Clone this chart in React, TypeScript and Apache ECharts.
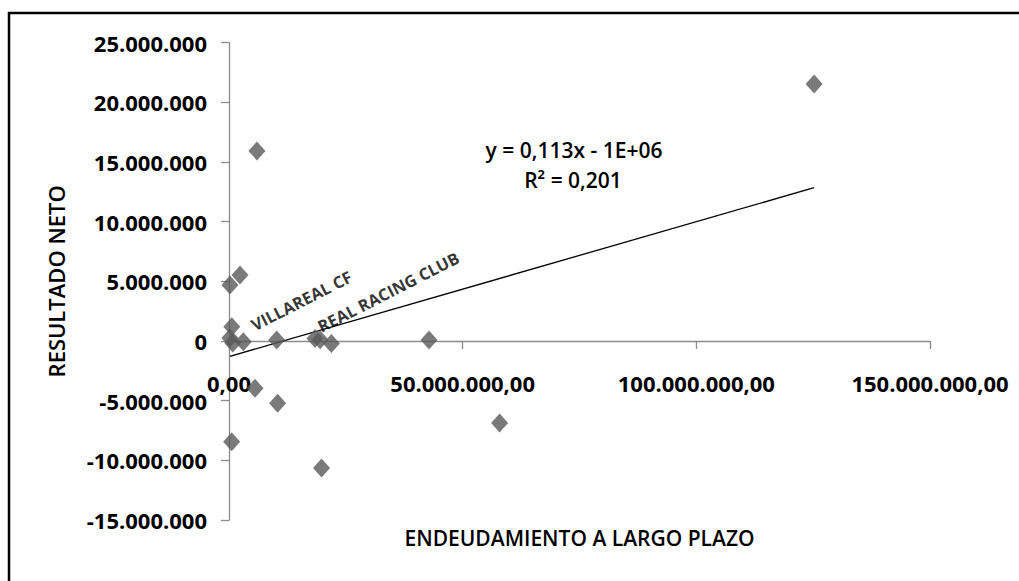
import React, { useEffect, useRef } from "react";
import * as echarts from "echarts";

// Long-term debt (x) and net result (y) per club, in euros
const DEBT = [
  200000, 2350000, 600000, 200000, 800000, 3060000, 10200000, 18400000,
  19500000, 21900000, 42800000, 5560000, 10400000, 570000, 19800000,
  57900000, 125200000, 5980000,
];
const NET_RESULT = [
  4690000, 5530000, 1200000, 250000, -170000, -60000, 80000, 220000,
  100000, -200000, 80000, -3960000, -5220000, -8440000, -10650000,
  -6870000, 21540000, 15930000,
];
const CLUB_LABELS = [
  "", "", "", "", "", "VILLAREAL CF", "", "REAL RACING CLUB",
  "", "", "", "", "", "", "", "", "", "",
];

// Linear trendline parameters
const TREND_SLOPE = 0.113;
const TREND_INTERCEPT = -1300000;
const TREND_R2 = 0.201;

const X_TICKS = { min: 0, max: 150000000, interval: 50000000 };
const Y_TICKS = { min: -15000000, max: 25000000, interval: 5000000 };

const X_TITLE = "ENDEUDAMIENTO A LARGO PLAZO";
const Y_TITLE = "RESULTADO NETO";

const FONT = "'Open Sans', 'DejaVu Sans', sans-serif";

function thousands(v: number): string {
  const neg = v < 0;
  const s = Math.round(Math.abs(v)).toString().replace(/\B(?=(\d{3})+(?!\d))/g, ".");
  return (neg ? "-" : "") + s;
}

function excelNumber(v: number, digits: number): string {
  return v.toFixed(digits).replace(".", ",");
}

function excelExp(v: number): string {
  const [m, e] = Math.abs(v).toExponential(0).split("e");
  const n = parseInt(e, 10);
  return m + "E" + (n < 0 ? "-" : "+") + String(Math.abs(n)).padStart(2, "0");
}

export default function App() {
  const ref = useRef<HTMLDivElement>(null);

  useEffect(() => {
    if (!ref.current) return;
    const chart = echarts.init(ref.current, undefined, { renderer: "svg" });

    const points = DEBT.map((x, i) => ({
      value: [x, NET_RESULT[i]],
      name: CLUB_LABELS[i],
      label: CLUB_LABELS[i]
        ? {
            show: true,
            formatter: "{b}",
            rotate: 27,
            align: "left",
            verticalAlign: "bottom",
            position: i === 5 ? [21, 1] : [16, 6],
            fontFamily: FONT,
            fontSize: 16.5,
            fontWeight: "bold",
            color: "#000",
          }
        : { show: false },
    }));

    const xMin = Math.min(...DEBT);
    const xMax = Math.max(...DEBT);
    const trend = [
      [xMin, TREND_SLOPE * xMin + TREND_INTERCEPT],
      [xMax, TREND_SLOPE * xMax + TREND_INTERCEPT],
    ];

    const equation =
      "y = " + excelNumber(TREND_SLOPE, 3) + "x " + (TREND_INTERCEPT < 0 ? "- " : "+ ") + excelExp(TREND_INTERCEPT);
    const r2 = "R² = " + excelNumber(TREND_R2, 3);

    const axisColor = "#8c8c8c";

    chart.setOption({
      animation: false,
      backgroundColor: "#ffffff",
      grid: { left: 229, right: 89, top: 42.7, bottom: 61, outerBoundsMode: "none" },
      xAxis: {
        type: "value",
        min: X_TICKS.min,
        max: X_TICKS.max,
        interval: X_TICKS.interval,
        axisLine: { show: true, onZero: true, lineStyle: { color: axisColor, width: 1.3 } },
        axisTick: { show: true, length: 8, lineStyle: { color: axisColor, width: 1.3 } },
        splitLine: { show: false },
        axisLabel: {
          formatter: (v: number) => thousands(v) + ",00",
          margin: -148,
          fontFamily: FONT,
          fontSize: 22,
          fontWeight: "bold",
          color: "#000",
        },
        name: X_TITLE,
        nameLocation: "middle",
        nameGap: 7,
        nameTextStyle: { fontFamily: FONT, fontSize: 21, fontWeight: 600, color: "#000" },
      },
      yAxis: {
        type: "value",
        min: Y_TICKS.min,
        max: Y_TICKS.max,
        interval: Y_TICKS.interval,
        axisLine: { show: true, onZero: false, lineStyle: { color: axisColor, width: 1.3 } },
        axisTick: { show: true, length: 8, lineStyle: { color: axisColor, width: 1.3 } },
        splitLine: { show: false },
        axisLabel: {
          formatter: (v: number) => thousands(v),
          margin: 22,
          fontFamily: FONT,
          fontSize: 22,
          fontWeight: "bold",
          color: "#000",
        },
        name: Y_TITLE,
        nameLocation: "middle",
        nameRotate: 90,
        nameGap: 162,
        nameTextStyle: { fontFamily: FONT, fontSize: 22, fontWeight: 600, color: "#000" },
      },
      series: [
        {
          type: "line",
          data: trend,
          showSymbol: false,
          lineStyle: { color: "#000", width: 1.3 },
          z: 1,
          silent: true,
        },
        {
          type: "scatter",
          data: points,
          symbol: "diamond",
          symbolSize: [17, 19],
          itemStyle: { color: "#595959" },
          z: 2,
        },
      ],
      graphic: [
        {
          type: "rect",
          shape: { x: 9, y: 13, width: 1100, height: 700 },
          style: { fill: "transparent", stroke: "#000", lineWidth: 2.5 },
          z: -1,
        },
        {
          type: "text",
          x: 574,
          y: 150,
          style: {
            text: equation,
            align: "center",
            verticalAlign: "middle",
            fontFamily: FONT,
            fontSize: 21,
            fontWeight: 600,
            fill: "#000",
          },
        },
        {
          type: "text",
          x: 573,
          y: 180,
          style: {
            text: r2,
            align: "center",
            verticalAlign: "middle",
            fontFamily: FONT,
            fontSize: 21,
            fontWeight: 600,
            fill: "#000",
          },
        },
      ],
    });

    return () => chart.dispose();
  }, []);

  return (
    <div
      ref={ref}
      style={{ position: "absolute", left: 0, top: 0, width: 1019, height: 581 }}
    />
  );
}
